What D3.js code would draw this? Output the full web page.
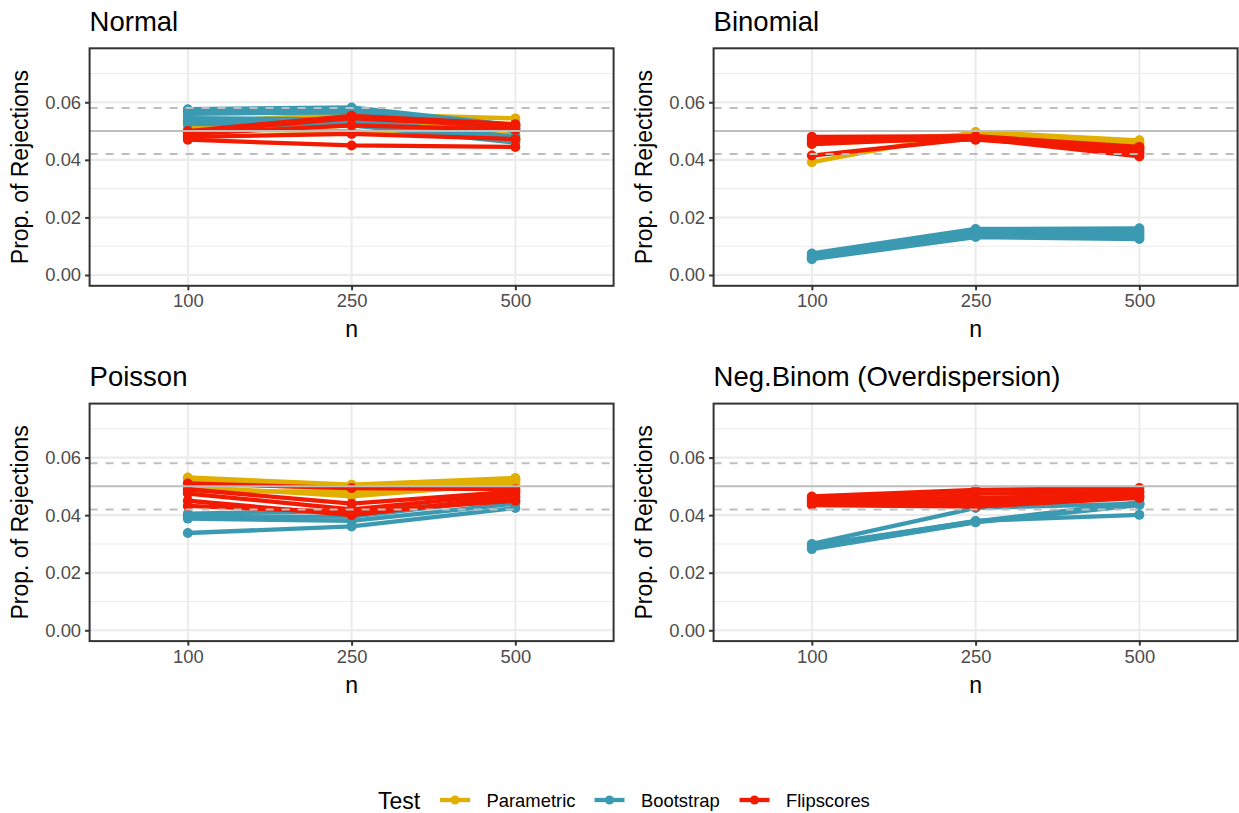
<!DOCTYPE html>
<html>
<head>
<meta charset="utf-8">
<script src="https://cdn.jsdelivr.net/npm/d3@7"></script>
<style>
  body { margin: 0; background: #fff; }
  svg { display: block; font-family: "Liberation Sans", Arial, sans-serif; }
</style>
</head>
<body>
<svg id="chart" width="1239" height="813"></svg>
<script>
// ---- data ----
const nLevels = ["100", "250", "500"];
const yTicks = [0, 0.02, 0.04, 0.06];
const yMinor = [0.01, 0.03, 0.05, 0.07];
const tests = ["Parametric", "Bootstrap", "Flipscores"];
const testColors = ["#E1AF00", "#3B9AB2", "#F21A00"];
const panels = ["Normal", "Binomial", "Poisson", "Neg.Binom (Overdispersion)"];
const refLine = 0.05;
const refBand = [0.042, 0.058];

// each row: one setting, values at n = 100, 250, 500
const normalParametric = [[0.0530,0.0560,0.0544],[0.0510,0.0535,0.0500],[0.0495,0.0520,0.0485],[0.0505,0.0500,0.0470],[0.0520,0.0550,0.0520]];
const normalBootstrap  = [[0.0576,0.0582,0.0520],[0.0568,0.0575,0.0510],[0.0560,0.0565,0.0500],[0.0545,0.0540,0.0480],[0.0535,0.0530,0.0470],[0.0525,0.0520,0.0460]];
const normalFlipscores = [[0.0500,0.0553,0.0524],[0.0495,0.0545,0.0515],[0.0490,0.0520,0.0505],[0.0480,0.0490,0.0472],[0.0470,0.0450,0.0445]];

const binomParametric = [[0.0392,0.0497,0.0468],[0.0455,0.0480,0.0460],[0.0470,0.0470,0.0455],[0.0462,0.0488,0.0448]];
const binomBootstrap  = [[0.0075,0.0160,0.0162],[0.0071,0.0155,0.0156],[0.0068,0.0150,0.0150],[0.0065,0.0145,0.0144],[0.0062,0.0140,0.0138],[0.0058,0.0136,0.0131],[0.0055,0.0132,0.0125]];
const binomFlipscores = [[0.0480,0.0482,0.0445],[0.0476,0.0476,0.0440],[0.0472,0.0470,0.0432],[0.0462,0.0474,0.0426],[0.0455,0.0478,0.0420],[0.0415,0.0475,0.0412]];

const poisParametric = [[0.0531,0.0506,0.0529],[0.0522,0.0498,0.0524],[0.0515,0.0490,0.0518],[0.0500,0.0465,0.0510],[0.0485,0.0480,0.0500]];
const poisBootstrap  = [[0.0405,0.0415,0.0450],[0.0395,0.0395,0.0460],[0.0388,0.0380,0.0440],[0.0338,0.0361,0.0425]];
const poisFlipscores = [[0.0510,0.0494,0.0490],[0.0490,0.0440,0.0482],[0.0475,0.0420,0.0475],[0.0450,0.0400,0.0465],[0.0432,0.0410,0.0450]];

const nbParametric = [];
const nbBootstrap  = [[0.0300,0.0425,0.0440],[0.0295,0.0378,0.0445],[0.0290,0.0380,0.0401],[0.0285,0.0377,0.0438],[0.0282,0.0375,0.0435]];
const nbFlipscores = [[0.0465,0.0488,0.0494],[0.0460,0.0475,0.0482],[0.0455,0.0460,0.0470],[0.0445,0.0450,0.0480],[0.0440,0.0440,0.0465],[0.0435,0.0430,0.0460]];

const panelData = [
  [normalParametric, normalBootstrap, normalFlipscores],
  [binomParametric, binomBootstrap, binomFlipscores],
  [poisParametric, poisBootstrap, poisFlipscores],
  [nbParametric, nbBootstrap, nbFlipscores]
];

// ---- layout ----
const svg = d3.select("#chart");
const pw = 524, ph = 237.5;
const panelPos = [
  {x: 89.6, y: 48.3},
  {x: 713.6, y: 48.3},
  {x: 89.6, y: 403.6},
  {x: 713.6, y: 403.6}
];

const x = d3.scalePoint().domain(nLevels).range([0, pw]).padding(0.6);
const y = d3.scaleLinear().domain([-0.00375, 0.07875]).range([ph, 0]);

panels.forEach((title, i) => {
  const p = panelPos[i];
  const g = svg.append("g").attr("transform", `translate(${p.x},${p.y})`);

  // minor grid
  g.selectAll(".minor").data(yMinor).join("line")
    .attr("x1", 0).attr("x2", pw)
    .attr("y1", d => y(d)).attr("y2", d => y(d))
    .attr("stroke", "#EBEBEB").attr("stroke-width", 1.1);
  // major grid
  g.selectAll(".majorY").data(yTicks).join("line")
    .attr("x1", 0).attr("x2", pw)
    .attr("y1", d => y(d)).attr("y2", d => y(d))
    .attr("stroke", "#EBEBEB").attr("stroke-width", 2.1);
  g.selectAll(".majorX").data(nLevels).join("line")
    .attr("y1", 0).attr("y2", ph)
    .attr("x1", d => x(d)).attr("x2", d => x(d))
    .attr("stroke", "#EBEBEB").attr("stroke-width", 2.1);

  // data
  const line = d3.line().x((d, k) => x(nLevels[k])).y(d => y(d));
  panelData[i].forEach((series, t) => {
    series.forEach(vals => {
      g.append("path").datum(vals)
        .attr("d", line)
        .attr("fill", "none")
        .attr("stroke", testColors[t])
        .attr("stroke-width", 4.3)
        .attr("stroke-linejoin", "round");
      g.selectAll(null).data(vals).join("circle")
        .attr("cx", (d, k) => x(nLevels[k]))
        .attr("cy", d => y(d))
        .attr("r", 5)
        .attr("fill", testColors[t]);
    });
  });

  // reference lines
  g.append("line").attr("x1", 0).attr("x2", pw)
    .attr("y1", y(refLine)).attr("y2", y(refLine))
    .attr("stroke", "#BEBEBE").attr("stroke-width", 2);
  refBand.forEach(v => {
    g.append("line").attr("x1", 0).attr("x2", pw)
      .attr("y1", y(v)).attr("y2", y(v))
      .attr("stroke", "#BEBEBE").attr("stroke-width", 2)
      .attr("stroke-dasharray", "8,8");
  });

  // border
  g.append("rect").attr("x", 0).attr("y", 0).attr("width", pw).attr("height", ph)
    .attr("fill", "none").attr("stroke", "#333333").attr("stroke-width", 2);

  // axes
  const yAxis = d3.axisLeft(y).tickValues(yTicks).tickFormat(d3.format(".2f")).tickSize(4.5).tickPadding(4);
  const ya = g.append("g").call(yAxis);
  ya.select(".domain").remove();
  ya.selectAll(".tick line").attr("stroke", "#333333").attr("stroke-width", 2);
  ya.selectAll(".tick text").attr("fill", "#4D4D4D").style("font-size", "18.4px")
    .style("font-family", '"Liberation Sans", Arial, sans-serif');

  const xAxis = d3.axisBottom(x).tickSize(4.5).tickPadding(4);
  const xa = g.append("g").attr("transform", `translate(0,${ph})`).call(xAxis);
  xa.select(".domain").remove();
  xa.selectAll(".tick line").attr("stroke", "#333333").attr("stroke-width", 2);
  xa.selectAll(".tick text").attr("fill", "#4D4D4D").style("font-size", "18.4px")
    .style("font-family", '"Liberation Sans", Arial, sans-serif');

  // axis titles
  g.append("text").attr("x", x("250")).attr("y", ph + 51.5)
    .attr("text-anchor", "middle").style("font-size", "23px").text("n");
  g.append("text")
    .attr("transform", `translate(${-61.5},${ph / 2}) rotate(-90)`)
    .attr("text-anchor", "middle").style("font-size", "23px").text("Prop. of Rejections");

  // panel title
  g.append("text").attr("x", 0).attr("y", -17.5)
    .style("font-size", "27.5px").text(title);
});

// ---- legend ----
const leg = svg.append("g").attr("transform", "translate(0,800)");
leg.append("text").attr("x", 378).attr("y", 8.5).style("font-size", "23px").text("Test");
const legX = [440, 594.5, 739.5];
tests.forEach((t, k) => {
  leg.append("line").attr("x1", legX[k]).attr("x2", legX[k] + 30)
    .attr("y1", 0).attr("y2", 0)
    .attr("stroke", testColors[k]).attr("stroke-width", 4.3);
  leg.append("circle").attr("cx", legX[k] + 15).attr("cy", 0).attr("r", 4.5)
    .attr("fill", testColors[k]);
  leg.append("text").attr("x", legX[k] + 46.5).attr("y", 6.5)
    .style("font-size", "18.4px").text(t);
});
</script>
</body>
</html>
